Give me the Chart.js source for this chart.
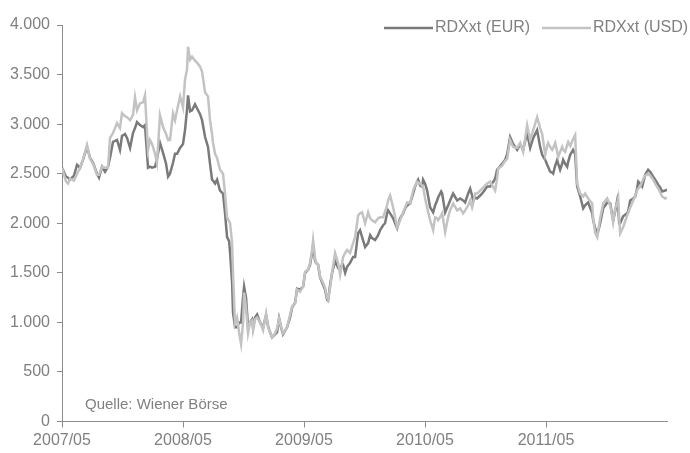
<!DOCTYPE html>
<html>
<head>
<meta charset="utf-8">
<script src="https://cdn.jsdelivr.net/npm/chart.js@4/dist/chart.umd.min.js"></script>
<style>
  html, body { margin: 0; padding: 0; background: #fff; }
  #wrap { width: 690px; height: 453px; }
</style>
</head>
<body>
<div id="wrap"><canvas id="myChart"></canvas></div>
<script>
// months since 2007/05
const months = [
  0, 0.40, 0.60, 0.79, 1.19, 1.49, 1.79, 2.08, 2.48, 2.78,
  3.08, 3.47, 3.67, 3.97, 4.27, 4.56, 4.76, 5.06, 5.46, 5.75,
  5.95, 6.25, 6.45, 6.75, 7.04, 7.24, 7.44, 7.74, 8.04, 8.23,
  8.53, 8.73, 8.93, 9.23, 9.42, 9.72, 10.02, 10.32, 10.52, 10.71,
  11.01, 11.21, 11.41, 11.71, 12.00, 12.20, 12.40, 12.50, 12.70, 12.90,
  13.19, 13.39, 13.69, 13.89, 14.19, 14.48, 14.68, 14.88, 14.98, 15.18,
  15.38, 15.67, 15.97, 16.17, 16.37, 16.57, 16.67, 16.87, 16.96, 17.16,
  17.36, 17.56, 17.76, 17.96, 18.06, 18.25, 18.45, 18.65, 18.85, 18.95,
  19.15, 19.35, 19.64, 19.94, 20.24, 20.44, 20.63, 20.83, 21.13, 21.33,
  21.53, 21.73, 21.92, 22.32, 22.62, 22.82, 23.12, 23.31, 23.61, 23.91,
  24.11, 24.40, 24.60, 24.80, 24.90, 25.10, 25.20, 25.40, 25.60, 25.89,
  26.09, 26.29, 26.39, 26.59, 26.79, 27.08, 27.38, 27.58, 27.88, 28.08,
  28.27, 28.57, 28.87, 29.07, 29.37, 29.56, 29.76, 30.06, 30.36, 30.56,
  30.75, 31.05, 31.35, 31.55, 31.85, 32.04, 32.24, 32.34, 32.54, 32.84,
  33.23, 33.53, 33.83, 34.03, 34.23, 34.52, 34.82, 35.02, 35.22, 35.32,
  35.52, 35.71, 35.81, 36.01, 36.21, 36.51, 36.81, 37.00, 37.20, 37.30,
  37.60, 37.70, 38.00, 38.29, 38.49, 38.79, 39.19, 39.48, 39.78, 39.98,
  40.28, 40.48, 40.67, 40.77, 40.97, 41.17, 41.47, 41.67, 41.96, 42.16,
  42.46, 42.96, 43.15, 43.25, 43.65, 43.95, 44.15, 44.44, 44.74, 45.14,
  45.44, 45.73, 46.13, 46.43, 46.73, 47.12, 47.42, 47.62, 47.92, 48.12,
  48.21, 48.41, 48.61, 48.71, 48.91, 49.11, 49.21, 49.40, 49.60, 49.70,
  49.90, 50.10, 50.20, 50.40, 50.69, 50.89, 51.09, 51.39, 51.69, 51.88,
  52.18, 52.58, 52.68, 52.88, 53.08, 53.37, 53.57, 53.67, 54.07, 54.37,
  54.66, 54.86, 55.06, 55.16, 55.26, 55.36, 55.65, 56.05, 56.15, 56.35,
  56.65, 56.85, 57.04, 57.14, 57.34, 57.54, 57.74, 57.84, 58.13, 58.33,
  58.63, 58.83, 59.13, 59.33, 59.52, 59.82, 60
];

const eur = [
  2560, 2470, 2460, 2440, 2480, 2590, 2560, 2640, 2770, 2660,
  2610, 2500, 2460, 2570, 2520, 2570, 2660, 2820, 2840, 2740,
  2880, 2900, 2860, 2760, 2910, 2960, 3020, 2990, 2970, 2990,
  2560, 2570, 2560, 2570, 2650, 2810, 2710, 2600, 2470, 2500,
  2610, 2700, 2700, 2760, 2800, 2940, 3150, 3290, 3130, 3140,
  3200, 3160, 3100, 3040, 2870, 2770, 2600, 2440, 2430, 2400,
  2440, 2330, 2300, 2100, 1860, 1820, 1700, 1400, 1100, 950,
  950, 1000, 1000, 1260, 1360, 1250, 950, 1000, 1030, 950,
  1050, 1080, 1000, 950, 1070, 960, 900, 850, 880, 900,
  1040, 950, 880, 950, 1050, 1150, 1200, 1340, 1330, 1360,
  1500, 1530, 1580, 1700, 1780, 1620, 1600, 1580, 1450, 1380,
  1330, 1230, 1220, 1380, 1500, 1620, 1550, 1560, 1580, 1500,
  1560, 1600, 1660, 1660, 1900, 1930, 1860, 1760, 1800, 1880,
  1850, 1830, 1880, 1930, 1980, 2000, 2100, 2130, 2100, 2050,
  1950, 2050, 2100, 2150, 2180, 2200, 2300, 2370, 2420, 2440,
  2380, 2370, 2440, 2400, 2330, 2160, 2110, 2180, 2230, 2260,
  2320, 2300, 2110, 2180, 2230, 2300, 2230, 2250, 2230, 2210,
  2300, 2350, 2280, 2230, 2260, 2250, 2280, 2300, 2340, 2370,
  2370, 2450, 2540, 2550, 2600, 2640, 2700, 2870, 2800, 2740,
  2800, 2740, 2910, 2760, 2860, 2940, 2770, 2690, 2640, 2590,
  2570, 2520, 2510, 2500, 2580, 2640, 2600, 2540, 2600, 2640,
  2600, 2570, 2620, 2690, 2740, 2700, 2370, 2270, 2150, 2180,
  2210, 2100, 2030, 1950, 1880, 2000, 2100, 2150, 2210, 2200,
  2030, 2120, 2230, 2150, 2000, 2000, 2070, 2100, 2120, 2230,
  2250, 2270, 2350, 2420, 2400, 2370, 2450, 2490, 2540, 2520,
  2470, 2440, 2390, 2360, 2320, 2330, 2340
];

const usd = [
  2560, 2420, 2400, 2450, 2430, 2500, 2560, 2640, 2790, 2650,
  2600, 2490, 2490, 2570, 2560, 2560, 2860, 2910, 3010, 2960,
  3110, 3080, 3070, 3040, 3090, 3270, 3140, 3210, 3220, 3290,
  2740, 2840, 2800, 2700, 2610, 3090, 2970, 2900, 2840, 2840,
  3110, 3040, 3140, 3280, 3170, 3450, 3550, 3780, 3650, 3680,
  3640, 3620, 3580, 3530, 3320, 3280, 3040, 2900, 2810, 2700,
  2660, 2540, 2500, 2300, 2060, 2020, 2000, 1800, 1500, 990,
  1050, 900, 780, 1000, 1300, 1150, 890, 1000, 1020, 920,
  1030, 1050, 1000, 920, 1090, 950, 900, 850, 890, 940,
  1040, 960, 890, 950, 1080, 1160, 1190, 1330, 1310, 1360,
  1510, 1530, 1600, 1730, 1830, 1650, 1600, 1580, 1460, 1400,
  1350, 1250, 1230, 1350, 1510, 1700, 1600, 1480, 1660, 1700,
  1730, 1700, 1800, 1860, 2080, 2100, 2110, 2000, 2110, 2050,
  2030, 2010, 2050, 2060, 2060, 2120, 2180, 2230, 2280, 2160,
  1960, 2030, 2110, 2160, 2210, 2200, 2330, 2380, 2420, 2410,
  2400, 2380, 2370, 2250, 2160, 2030, 1930, 2060, 2050, 2030,
  2080, 2100, 1910, 2060, 2130, 2200, 2130, 2150, 2100, 2130,
  2180, 2230, 2160, 2200, 2300, 2300, 2330, 2350, 2380, 2400,
  2420, 2330, 2450, 2550, 2580, 2630, 2650, 2840, 2770, 2760,
  2810, 2720, 2990, 2840, 2940, 3070, 2960, 2900, 2690, 2780,
  2810, 2770, 2740, 2760, 2810, 2720, 2670, 2720, 2770, 2740,
  2720, 2790, 2820, 2780, 2850, 2890, 2400, 2300, 2270, 2300,
  2250, 2200, 2050, 1900, 1860, 2050, 2150, 2200, 2250, 2180,
  2010, 2150, 2200, 2250, 2050, 1900, 1960, 2080, 2100, 2160,
  2230, 2280, 2330, 2350, 2370, 2420, 2470, 2480, 2500, 2480,
  2440, 2400, 2350, 2310, 2270, 2250, 2260
];

const xTicks = [0, 12, 24, 36, 48];
const yTicks = [0, 500, 1000, 1500, 2000, 2500, 3000, 3500, 4000];

const seriesNames = ['RDXxt (EUR)', 'RDXxt (USD)'];
const source = 'Quelle: Wiener Börse';

const darkCol = '#7a7a7a';
const lightCol = '#c3c3c3';
const textCol = '#808080';
const axisCol = '#8c8c8c';

function pts(vals) {
  return vals.map((v, i) => ({ x: months[i], y: v }));
}

function fmtThousands(v) {
  return String(v).replace(/\B(?=(\d{3})+(?!\d))/g, '.');
}

function fmtMonth(m) {
  const total = 4 + m;
  const yr = 2007 + Math.floor(total / 12);
  const mo = (total % 12) + 1;
  return yr + '/' + (mo < 10 ? '0' + mo : mo);
}

const overlay = {
  id: 'overlay',
  afterDraw(chart) {
    const c = chart.ctx;
    c.save();
    c.font = '16px "Liberation Sans", Arial, sans-serif';
    c.textBaseline = 'middle';
    c.fillStyle = textCol;
    c.lineWidth = 2.5;
    // legend
    const items = [
      { x: 384, col: darkCol, label: seriesNames[0] },
      { x: 542, col: lightCol, label: seriesNames[1] }
    ];
    items.forEach(it => {
      c.strokeStyle = it.col;
      c.beginPath();
      c.moveTo(it.x, 28);
      c.lineTo(it.x + 49, 28);
      c.stroke();
      c.fillText(it.label, it.x + 51, 28);
    });
    // source
    c.font = '15px "Liberation Sans", Arial, sans-serif';
    c.fillText(source, 85, 405);
    c.restore();
  }
};

new Chart(document.getElementById('myChart'), {
  type: 'line',
  data: {
    datasets: [
      {
        label: seriesNames[0],
        data: pts(eur),
        borderColor: darkCol,
        borderWidth: 2.5,
        pointRadius: 0,
        tension: 0,
        order: 1
      },
      {
        label: seriesNames[1],
        data: pts(usd),
        borderColor: lightCol,
        borderWidth: 2.5,
        pointRadius: 0,
        tension: 0,
        order: 0
      }
    ]
  },
  options: {
    responsive: true,
    maintainAspectRatio: false,
    animation: false,
    layout: { padding: { top: 25, right: 23, left: 0, bottom: 0 } },
    plugins: {
      legend: { display: false },
      tooltip: { enabled: false }
    },
    scales: {
      x: {
        type: 'linear',
        min: 0,
        max: 60,
        afterBuildTicks: (s) => { s.ticks = xTicks.map(v => ({ value: v })); },
        afterFit: (s) => { s.height = 31.5; },
        grid: { display: true, drawOnChartArea: false, drawTicks: true, tickLength: 6, color: axisCol },
        border: { display: true, color: axisCol, width: 1 },
        ticks: {
          color: textCol,
          font: { family: '"Liberation Sans", Arial, sans-serif', size: 16 },
          padding: 3,
          maxRotation: 0,
          callback: (v) => fmtMonth(v)
        }
      },
      y: {
        min: 0,
        max: 4000,
        afterBuildTicks: (s) => { s.ticks = yTicks.map(v => ({ value: v })); },
        afterFit: (s) => { s.width = 62; },
        grid: { display: true, drawOnChartArea: false, drawTicks: true, tickLength: 5, color: axisCol },
        border: { display: true, color: axisCol, width: 1 },
        ticks: {
          color: textCol,
          font: { family: '"Liberation Sans", Arial, sans-serif', size: 16 },
          padding: 7,
          callback: (v) => fmtThousands(v)
        }
      }
    }
  },
  plugins: [overlay]
});
</script>
</body>
</html>
